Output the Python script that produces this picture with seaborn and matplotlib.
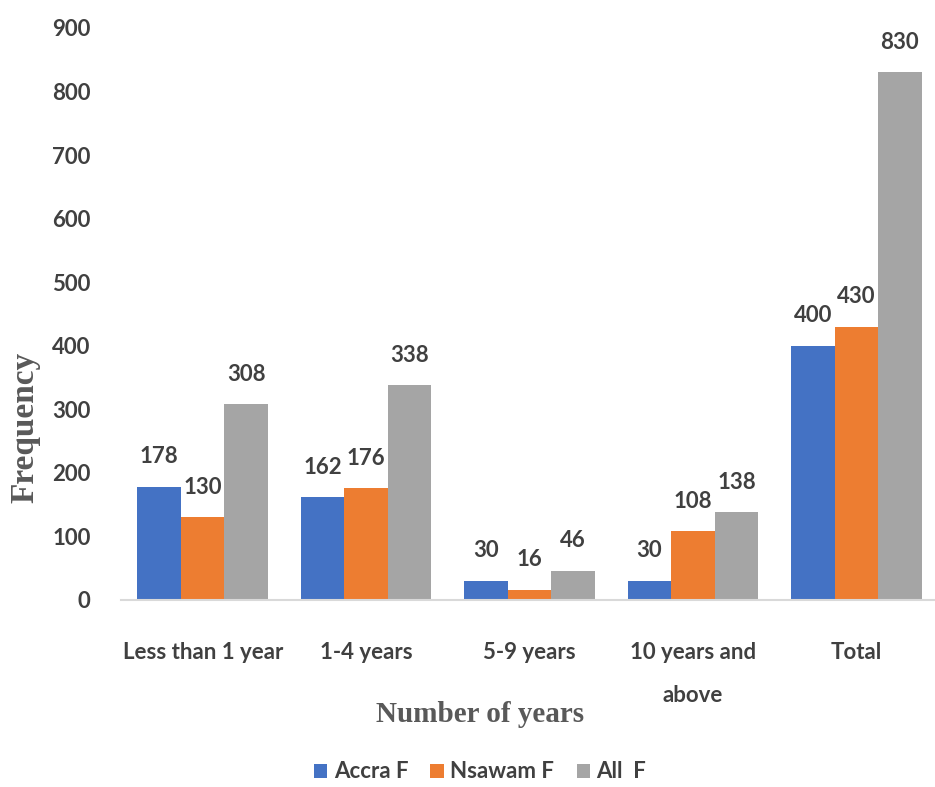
import matplotlib
matplotlib.use("Agg")
import matplotlib.pyplot as plt
import seaborn as sns
import pandas as pd

categories = ["Less than 1 year", "1-4 years", "5-9 years", "10 years and\nabove", "Total"]
series_names = ["Accra F", "Nsawam F", "All  F"]
accra = [178, 162, 30, 30, 400]
nsawam = [130, 176, 16, 108, 430]
all_f = [308, 338, 46, 138, 830]
colors = ["#4472C4", "#ED7D31", "#A5A5A5"]

rows = []
for name, vals in zip(series_names, [accra, nsawam, all_f]):
    for c, v in zip(categories, vals):
        rows.append({"cat": c, "series": name, "value": v})
df = pd.DataFrame(rows)

sns.set_theme(style="white")
plt.rcParams['font.family'] = ['Lato', 'DejaVu Sans']

W, H = 935, 787
fig = plt.figure(figsize=(W / 100, H / 100), dpi=100)
ax = fig.add_axes([121 / W, 187 / H, 817 / W, 572 / H])
sns.barplot(data=df, x="cat", y="value", hue="series", order=categories,
            hue_order=series_names, palette=colors, width=0.8, ax=ax,
            saturation=1, edgecolor="none", linewidth=0)

txt = "#404040"
fs = 16
for cont in ax.containers:
    ax.bar_label(cont, padding=14, fontsize=fs, color=txt, fontweight='bold')

ax.set_ylim(0, 900)
ax.set_xlim(-0.5, 4.5)
ax.set_yticks(range(0, 901, 100))
ax.tick_params(axis='y', labelsize=fs, labelcolor=txt, length=0, pad=22)
ax.tick_params(axis='x', labelsize=fs, labelcolor=txt, length=0, pad=30)
for lbl in ax.get_xticklabels() + ax.get_yticklabels():
    lbl.set_fontweight('bold')
    lbl.set_linespacing(2.3)
for s in ["top", "right", "left"]:
    ax.spines[s].set_visible(False)
ax.spines["bottom"].set_color("#d9d9d9")
ax.spines["bottom"].set_linewidth(1.5)
ax.grid(False)
ax.set_xlabel("")
ax.set_ylabel("")

serif = ['Liberation Serif', 'DejaVu Serif']
fig.text(25 / W, 1 - 427 / H, "Frequency", rotation=90, ha='center', va='center',
         fontsize=24, fontweight='bold', color="#595959", family=serif)
fig.text(480 / W, 1 - 715 / H, "Number of years", ha='center', va='center',
         fontsize=21, fontweight='bold', color="#595959", family=serif)

handles, labels = ax.get_legend_handles_labels()
ax.get_legend().remove()
leg = fig.legend(handles, labels, loc='center', bbox_to_anchor=(480 / W, 1 - 772 / H),
                 ncol=3, frameon=False, fontsize=fs, handlelength=0.6, handleheight=0.6,
                 handletextpad=0.3, columnspacing=1.0)
for t in leg.get_texts():
    t.set_color(txt)
    t.set_fontweight('bold')

fig.savefig("out.png", dpi=100)
